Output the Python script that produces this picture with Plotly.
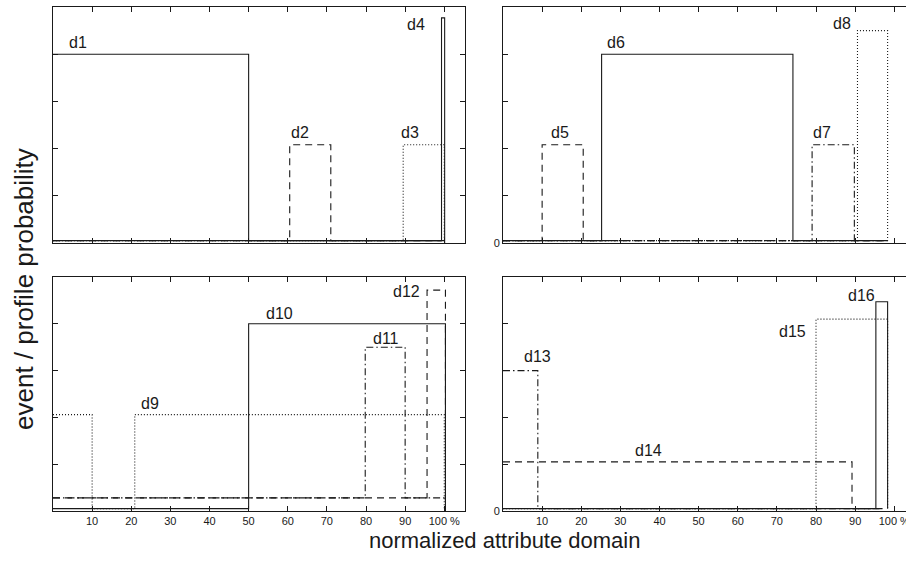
import plotly.graph_objects as go

W, H = 906, 565
B = 0.05   # near-zero baseline level

# ---- data: step functions (breakpoints, levels) in % of domain / probability units ----
# top-left panel
d1_x, d1_y = [0, 50, 99.3], [4.0, B, B]
d2_x, d2_y = [0, 60.5, 71, 100], [B, 2.08, B, B]
d3_x, d3_y = [0, 89.5, 100], [B, 2.08, B]
d4_x, d4_y = [0, 99.3, 100.1], [B, 4.77, 0]
# top-right panel
d5_x, d5_y = [0, 10, 20.5, 98.3], [B, 2.08, B, B]
d6_x, d6_y = [0, 25.2, 74.1, 98.3], [B, 4.0, B, B]
d7_x, d7_y = [0, 79, 89.8, 98.3], [B, 2.08, B, B]
d8_x, d8_y = [0, 90.6, 98.3], [B, 4.5, B]
# bottom-left panel
d9_x, d9_y = [0, 10, 20.9, 100], [2.06, B, 2.06, B]
d10_x, d10_y = [0, 50, 100.3], [B, 4.0, B]
d11_x, d11_y = [0, 79.8, 90, 100.3], [0.28, 3.5, 0.28, 0.28]
d12_x, d12_y = [0, 95.6, 100.3], [0.28, 4.72, 0]
# bottom-right panel
d13_x, d13_y = [0, 8.9, 97], [3.0, B, B]
d14_x, d14_y = [0, 89.2, 97], [1.05, B, B]
d15_x, d15_y = [0, 80, 98.3], [B, 4.1, B]
d16_x, d16_y = [0, 95.3, 98.3], [B, 4.47, B]

# label positions (x %, y level)
labels = {
    1: [("d1", 6.4, 4.25), ("d2", 63, 2.34), ("d3", 91.3, 2.34), ("d4", 92.8, 4.62)],
    2: [("d5", 14.5, 2.34), ("d6", 29, 4.25), ("d7", 81.6, 2.34), ("d8", 86.7, 4.64)],
    3: [("d9", 24.7, 2.3), ("d10", 58, 4.21), ("d11", 85, 3.68), ("d12", 90.4, 4.7)],
    4: [("d13", 8.7, 3.3), ("d14", 37.3, 1.3), ("d15", 74, 3.83), ("d16", 91.6, 4.6)],
}

x_tickvals = [0, 10, 20, 30, 40, 50, 60, 70, 80, 90, 100]
x_ticktext = ["", "10", "20", "30", "40", "50", "60", "70", "80", "90", "100 %"]
y_tickvals = [0, 1, 2, 3, 4]

INK = "#1a1a1a"
DASH = "7px,5px"
DOT = "1px,2px"
DASHDOT = "7px,3px,1.5px,3px"

series = [
    (1, d1_x, d1_y, "solid"), (1, d2_x, d2_y, DASH), (1, d3_x, d3_y, DOT), (1, d4_x, d4_y, "solid"),
    (2, d5_x, d5_y, DASH), (2, d6_x, d6_y, "solid"), (2, d7_x, d7_y, DASHDOT), (2, d8_x, d8_y, DOT),
    (3, d9_x, d9_y, DOT), (3, d10_x, d10_y, "solid"), (3, d11_x, d11_y, DASHDOT), (3, d12_x, d12_y, DASH),
    (4, d13_x, d13_y, DASHDOT), (4, d14_x, d14_y, DASH), (4, d15_x, d15_y, DOT), (4, d16_x, d16_y, "solid"),
]

fig = go.Figure()
for p, xs, ys, dash in series:
    sfx = "" if p == 1 else str(p)
    fig.add_trace(go.Scatter(x=xs, y=ys, mode="lines", line_shape="hv",
                             line=dict(color=INK, width=1.1, dash=dash),
                             xaxis="x" + sfx, yaxis="y" + sfx, showlegend=False,
                             hoverinfo="skip"))

def px_dom_x(a, b):
    return [a / W, b / W]

def px_dom_y(top, bot):
    return [1 - bot / H, 1 - top / H]

panels = {
    1: dict(xd=px_dom_x(53, 465), yd=px_dom_y(7, 243), xr=[0, 105.3], left=True, bottom=False),
    2: dict(xd=px_dom_x(503, 906), yd=px_dom_y(7, 243), xr=[0, 103.0], left=False, bottom=False),
    3: dict(xd=px_dom_x(53, 465), yd=px_dom_y(277, 511), xr=[0, 105.3], left=True, bottom=True),
    4: dict(xd=px_dom_x(503, 906), yd=px_dom_y(277, 511), xr=[0, 103.0], left=False, bottom=True),
}

layout = dict(template="none", width=W, height=H, margin=dict(l=0, r=0, t=0, b=0, pad=0),
              paper_bgcolor="white", plot_bgcolor="white", showlegend=False,
              font=dict(family="Liberation Sans, Arial, sans-serif", color=INK))
annotations = []
for p, cfg in panels.items():
    sfx = "" if p == 1 else str(p)
    layout["xaxis" + sfx] = dict(
        domain=cfg["xd"], range=cfg["xr"], anchor="y" + sfx, automargin=False,
        showgrid=False, zeroline=False, showline=True, linecolor=INK, linewidth=1,
        mirror="allticks", ticks="inside", ticklen=5, tickcolor=INK,
        tickvals=x_tickvals, ticktext=x_ticktext if cfg["bottom"] else [""] * len(x_tickvals),
        ticklabeloverflow="allow",
        tickfont=dict(size=11, color=INK), fixedrange=True)
    layout["yaxis" + sfx] = dict(
        domain=cfg["yd"], range=[0, 5], anchor="x" + sfx, automargin=False,
        showgrid=False, zeroline=False, showline=True, linecolor=INK, linewidth=1,
        mirror="allticks" if cfg["left"] else False, ticks="inside", ticklen=5, tickcolor=INK,
        tickvals=y_tickvals,
        ticktext=["0", "", "", "", ""] if not cfg["left"] else [""] * 5,
        ticklabeloverflow="allow",
        tickfont=dict(size=11, color=INK), fixedrange=True)
    for txt, lx, ly in labels[p]:
        annotations.append(dict(x=lx, y=ly, xref="x" + sfx, yref="y" + sfx, text=txt,
                                xanchor="center", yanchor="middle",
                                showarrow=False, font=dict(size=16, color=INK)))

annotations.append(dict(x=505 / W, y=1 - 540 / H, xref="paper", yref="paper",
                        xanchor="center", yanchor="middle",
                        text="normalized attribute domain", showarrow=False,
                        font=dict(size=22, color=INK)))
annotations.append(dict(x=24 / W, y=1 - 289 / H, xref="paper", yref="paper",
                        xanchor="center", yanchor="middle",
                        text="event / profile probability", showarrow=False, textangle=-90,
                        font=dict(size=26, color=INK)))
layout["annotations"] = annotations
fig.update_layout(**layout)
fig.write_html("out.html")
